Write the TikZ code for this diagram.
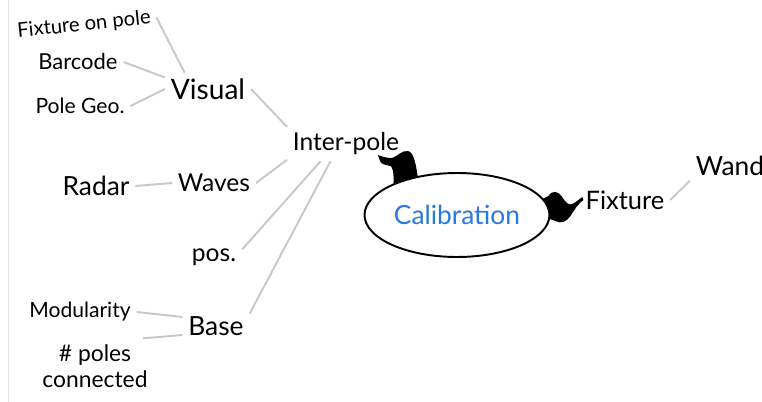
\documentclass[tikz,border=0pt]{standalone}
\usepackage{fontspec}
\setmainfont{Lato}
\usetikzlibrary{shapes.geometric, backgrounds}
\definecolor{calblue}{RGB}{40,120,230}
\definecolor{linkgray}{RGB}{200,200,200}

\begin{document}
\begin{tikzpicture}[x=0.02cm, y=-0.02cm, thick,
    every node/.style={font=\fontsize{14}{16}\selectfont, inner sep=3pt},
    link/.style={draw=linkgray, line width=1.1pt},
    branch/.style={fill=black, draw=none}]

    \useasboundingbox (0,0) rectangle (762,402);
    \draw[black!10, thin] (8,0) -- (8,402);

    % ==================== 中心 ====================
    \node[ellipse, draw, fill=white, line width=1.1pt, inner sep=0pt,
          minimum width=3.7cm, minimum height=1.68cm,
          text=calblue, font=\fontsize{15}{17}\selectfont] (calib) at (457,215) {Calibration};
    \node (interpole) at (346,144) {Inter-pole};
    \node[font=\fontsize{14.5}{16}\selectfont] (fixture) at (625,200) {Fixture};
    \node[font=\fontsize{15}{17}\selectfont] (wand) at (730,166) {Wand};

    % ==================== 左侧分支 ====================
    \node[font=\fontsize{16}{18}\selectfont] (visual) at (208,89) {Visual};
    \node[font=\fontsize{11.5}{13}\selectfont, rotate=6] (fop) at (84,25) {Fixture on pole};
    \node[font=\fontsize{12.5}{14}\selectfont] (barcode) at (78,62) {Barcode};
    \node[font=\fontsize{12}{14}\selectfont] (polegeo) at (80,106) {Pole Geo.};

    \node (waves) at (214,183) {Waves};
    \node[font=\fontsize{15}{17}\selectfont] (radar) at (96,186) {Radar};
    \node (pos) at (214,257) {pos.};

    \node[font=\fontsize{15}{17}\selectfont] (base) at (216,326) {Base};
    \node[font=\fontsize{12}{14}\selectfont] (modularity) at (80,312) {Modularity};
    \node[font=\fontsize{13}{15}\selectfont, align=center] (poles) at (95,366) {\# poles\\connected};

    % 连线
    \draw[link] (fop.east) -- (visual.145);
    \draw[link] (barcode.east) -- (visual.165);
    \draw[link] (polegeo.east) -- (visual.west);
    \draw[link] (radar.east) -- (waves.west);
    \draw[link] (modularity.east) -- (base.165);
    \draw[link] (poles.30) -- (base.195);
    \draw[link] (visual.east) -- (interpole.north west);
    \draw[link] (waves.east) -- (interpole.195);
    \draw[link] (pos.15) -- (interpole.214);
    \draw[link] (base.20) -- (interpole.228);
    \draw[link] (fixture.east) -- (wand.200);

    % 粗分支
    \begin{scope}[on background layer]
        \fill[branch, shift={(calib.north)}] (-79,-17) .. controls (-73,-15) and (-70,-14) .. (-65,-14)
            .. controls (-59,-16) and (-55,-22) .. (-49,-21)
            .. controls (-43,-20) and (-41,-8) .. (-38,13) -- (-64,19)
            .. controls (-63,7) and (-63,-2) .. (-66,-6)
            .. controls (-72,-7) and (-76,-8) .. (-77,-11)
            .. controls (-78,-13) and (-78,-15) .. (-79,-17) -- cycle;
        \fill[branch, shift={(calib.east)}] (-10,-15) -- (-2,-19)
            .. controls (2,-25) and (7,-24) .. (11,-19)
            .. controls (15,-13) and (18,-9) .. (22,-11)
            .. controls (26,-13) and (29,-16) .. (32,-18) -- (33,-15)
            .. controls (28,-12) and (24,-5) .. (20,1)
            .. controls (16,7) and (10,9) .. (5,6)
            .. controls (0,4) and (-4,3) .. (-10,3) -- cycle;
    \end{scope}

\end{tikzpicture}
\end{document}
